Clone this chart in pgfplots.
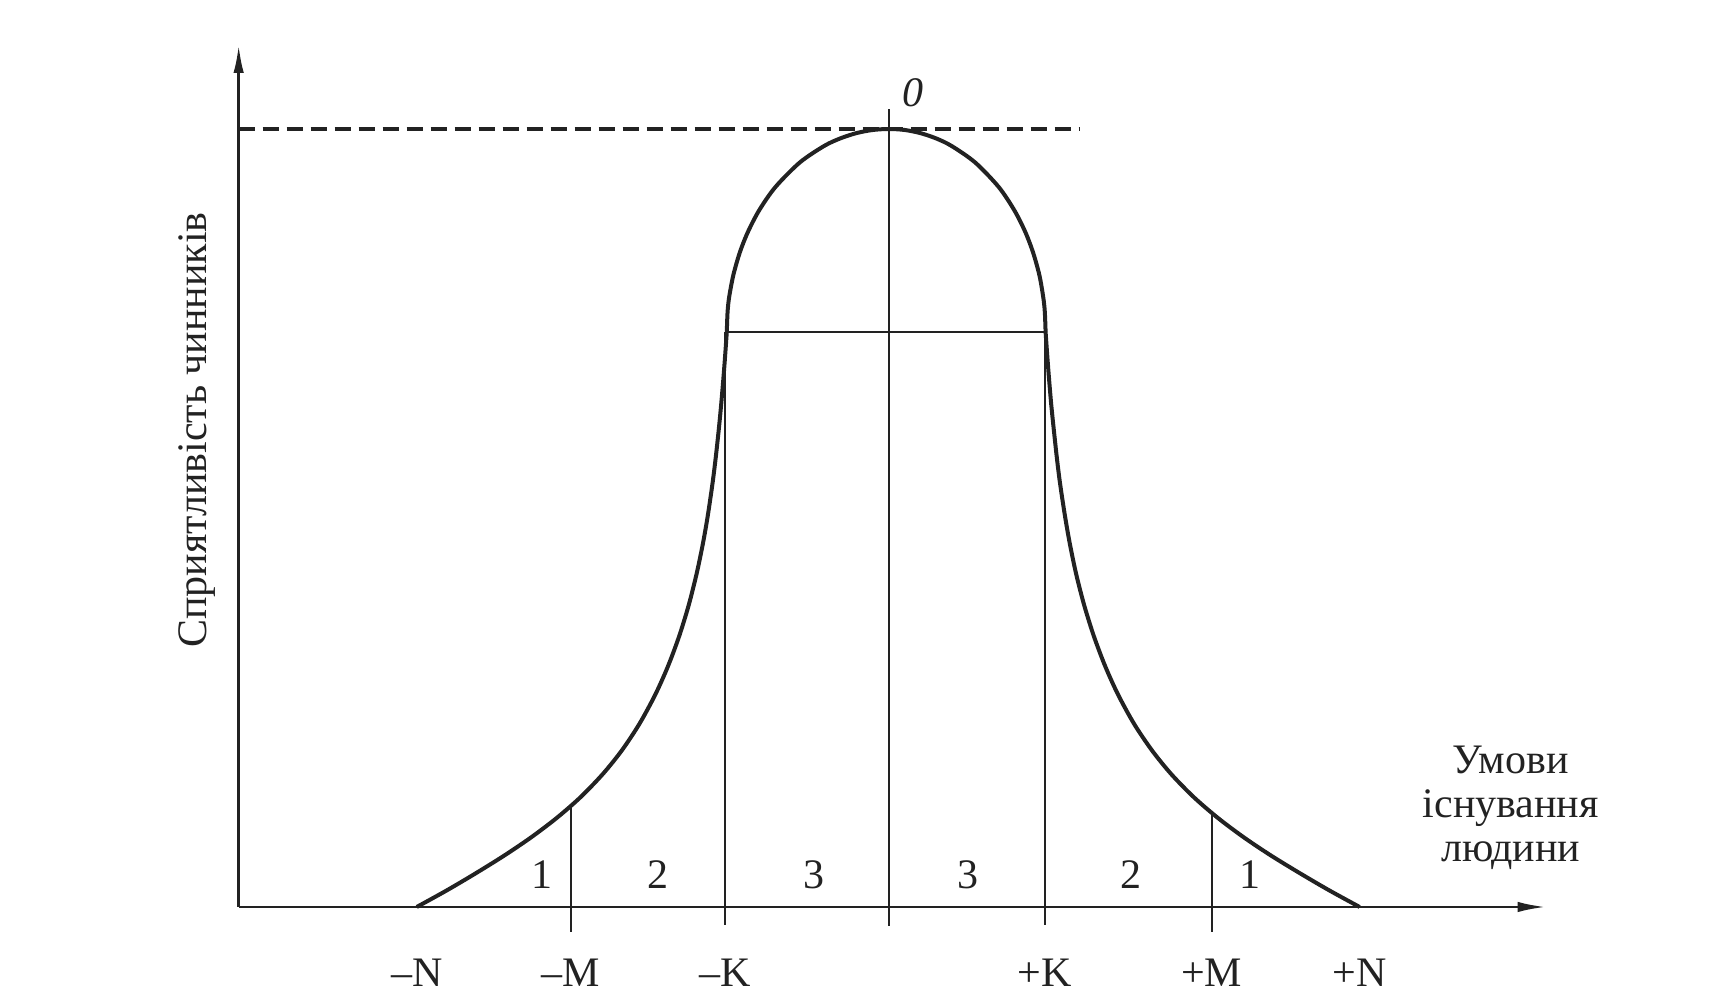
\documentclass[border=0pt]{standalone}
\usepackage{fontspec}
\setmainfont{Liberation Serif}
\usepackage{pgfplots}
\pgfplotsset{compat=1.18}
\usetikzlibrary{arrows.meta}
\definecolor{ink}{HTML}{222222}
\begin{document}
\begin{tikzpicture}[font=\fontsize{10.5}{11}\selectfont]
\begin{axis}[
  x=39.75pt, y=25pt,
  xmin=-4.09, xmax=4.13, ymin=0, ymax=8.62,
  axis lines=left,
  axis line style={ink, line width=0.65pt, -{Latex[length=7pt,width=2.6pt]}},
  ytick=\empty,
  xtick={-2.97,-2.0,-1.03,0.98,2.03,2.96},
  xticklabels={–N,–M,–K,+K,+M,+N},
  major tick length=0pt,
  xticklabel style={anchor=north, yshift=-9.5pt, text=ink},
  clip=false,
]
% left tail
\addplot[ink, line width=1pt, smooth] coordinates {
(-2.970,0) (-2.780,0.167) (-2.600,0.336) (-2.420,0.514) (-2.250,0.697) (-2.090,0.890)
(-1.940,1.098) (-1.800,1.329) (-1.680,1.566) (-1.570,1.830) (-1.470,2.123) (-1.390,2.407)
(-1.320,2.706) (-1.260,3.016) (-1.210,3.331) (-1.170,3.636) (-1.140,3.909) (-1.110,4.234)
(-1.090,4.489) (-1.070,4.782) (-1.055,5.032) (-1.040,5.314) (-1.030,5.523) (-1.020,5.75)};
% bell
\addplot[ink, line width=1pt, smooth] coordinates {
(-1.020,5.75) (-1.015,5.953) (-1.005,6.100) (-0.979,6.318) (-0.938,6.546) (-0.887,6.751)
(-0.816,6.968) (-0.714,7.200) (-0.561,7.445) (-0.408,7.610) (-0.306,7.686) (-0.204,7.739)
(-0.102,7.770) (0,7.78) (0.099,7.770) (0.197,7.739) (0.296,7.686) (0.394,7.610)
(0.542,7.445) (0.690,7.200) (0.788,6.968) (0.857,6.751) (0.906,6.546) (0.946,6.318)
(0.970,6.100) (0.980,5.953) (0.985,5.75)};
% right tail
\addplot[ink, line width=1pt, smooth] coordinates {
(0.985,5.75) (0.995,5.523) (1.005,5.314) (1.020,5.032) (1.036,4.782) (1.056,4.489)
(1.076,4.234) (1.107,3.909) (1.137,3.636) (1.177,3.331) (1.228,3.016) (1.289,2.706)
(1.360,2.407) (1.441,2.123) (1.542,1.830) (1.654,1.566) (1.775,1.329) (1.917,1.098)
(2.069,0.890) (2.231,0.697) (2.403,0.514) (2.586,0.336) (2.768,0.167) (2.960,0)};
% vertical lines
\addplot[ink, line width=0.6pt] coordinates {(-2.0,-0.25) (-2.0,1.01)};
\addplot[ink, line width=0.6pt] coordinates {(-1.03,-0.18) (-1.03,5.75)};
\addplot[ink, line width=0.6pt] coordinates {(0,-0.19) (0,7.98)};
\addplot[ink, line width=0.6pt] coordinates {(0.98,-0.18) (0.98,5.75)};
\addplot[ink, line width=0.6pt] coordinates {(2.03,-0.25) (2.03,0.94)};
% horizontal line
\addplot[ink, line width=0.65pt] coordinates {(-1.03,5.75) (0.985,5.75)};
% dashed level
\addplot[ink, line width=0.9pt, dash pattern=on 4pt off 2pt] coordinates {(-4.09,7.78) (1.2,7.78)};
% zone labels
\node[text=ink] at (axis cs:-2.18,0.32) {1};
\node[text=ink] at (axis cs:-1.45,0.32) {2};
\node[text=ink] at (axis cs:-0.47,0.32) {3};
\node[text=ink] at (axis cs:0.50,0.32) {3};
\node[text=ink] at (axis cs:1.52,0.32) {2};
\node[text=ink] at (axis cs:2.27,0.32) {1};
\node[text=ink, font=\fontsize{10.5}{11}\selectfont\itshape] at (axis cs:0.15,8.14) {0};
\node[text=ink, rotate=90, anchor=base] at (axis cs:-4.29,4.77) {Сприятливість чинників};
\node[text=ink, align=center] at (axis cs:3.91,0.99) {Умови\\існування\\людини};
\coordinate (bbsw) at (axis cs:-5.591,-0.88);
\coordinate (bbne) at (axis cs:5.214,9.07);
\end{axis}
\pgfresetboundingbox
\path[use as bounding box] (bbsw) rectangle (bbne);
\end{tikzpicture}
\end{document}
